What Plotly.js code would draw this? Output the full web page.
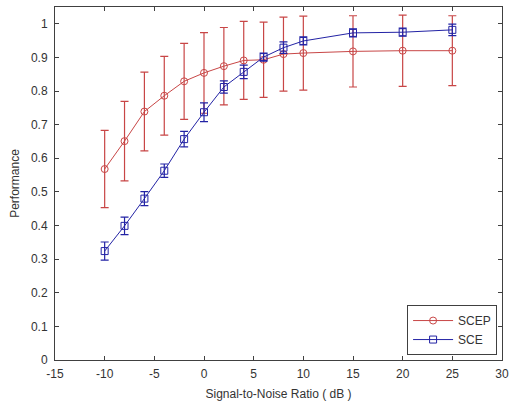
<!DOCTYPE html>
<html><head><meta charset="utf-8">
<script src="https://cdn.plot.ly/plotly-3.0.1.min.js"></script>
<style>body{margin:0;background:#fff}#plot{width:515px;height:406px}</style>
</head><body><div id="plot"></div>
<script>
const snr = [-10, -8, -6, -4, -2, 0, 2, 4, 6, 8, 10, 15, 20, 25];
const scepPerf = [0.568, 0.651, 0.739, 0.786, 0.829, 0.854, 0.874, 0.891, 0.893, 0.910, 0.913, 0.918, 0.920, 0.920];
const scepErr = [0.115, 0.118, 0.117, 0.117, 0.113, 0.12, 0.115, 0.116, 0.112, 0.11, 0.11, 0.106, 0.106, 0.104];
const scePerf = [0.324, 0.399, 0.480, 0.563, 0.657, 0.737, 0.812, 0.857, 0.901, 0.929, 0.949, 0.973, 0.975, 0.982];
const sceErr = [0.027, 0.026, 0.021, 0.02, 0.023, 0.028, 0.018, 0.02, 0.012, 0.017, 0.012, 0.012, 0.012, 0.017];
const xTicks = [-15, -10, -5, 0, 5, 10, 15, 20, 25, 30];
const yTicks = [0, 0.1, 0.2, 0.3, 0.4, 0.5, 0.6, 0.7, 0.8, 0.9, 1];

const red = 'rgb(200,70,70)';
const blue = 'rgb(35,35,165)';
const fam = 'Liberation Sans, Arial, sans-serif';
const traces = [
  {x: snr, y: scepPerf, name: 'SCEP', type: 'scatter', mode: 'lines+markers',
   line: {color: red, width: 1},
   marker: {symbol: 'circle-open', size: 7, color: red, line: {width: 1}},
   error_y: {type: 'data', array: scepErr, visible: true, color: red, thickness: 1.2, width: 4}},
  {x: snr, y: scePerf, name: 'SCE', type: 'scatter', mode: 'lines+markers',
   line: {color: blue, width: 1},
   marker: {symbol: 'square-open', size: 7, color: blue, line: {width: 1}},
   error_y: {type: 'data', array: sceErr, visible: true, color: blue, thickness: 1.2, width: 4}}
];
const axisCommon = {
  showgrid: false, zeroline: false, showline: true, linecolor: '#404040', linewidth: 1,
  mirror: 'ticks', ticks: 'inside', ticklen: 4, tickcolor: '#404040',
  tickfont: {family: fam, size: 12, color: '#333'}
};
const layout = {
  width: 515, height: 406,
  margin: {l: 55, r: 13, t: 7, b: 46},
  paper_bgcolor: '#fff', plot_bgcolor: '#fff',
  showlegend: true,
  legend: {x: 0.989, xanchor: 'right', y: 0.014, yanchor: 'bottom',
    bordercolor: '#404040', borderwidth: 1, bgcolor: '#fff', itemwidth: 40,
    font: {family: fam, size: 12, color: '#333'}},
  xaxis: Object.assign({}, axisCommon, {range: [-15, 30], tickvals: xTicks,
    ticktext: xTicks.map(String), ticklabelstandoff: 3,
    title: {text: 'Signal-to-Noise Ratio ( dB )', standoff: 9,
      font: {family: fam, size: 12, color: '#333'}}}),
  yaxis: Object.assign({}, axisCommon, {range: [0, 1.05], tickvals: yTicks,
    ticktext: yTicks.map(String), ticklabelstandoff: 4,
    title: {text: 'Performance', standoff: 8,
      font: {family: fam, size: 12, color: '#333'}}})
};
Plotly.newPlot('plot', traces, layout, {displayModeBar: false, staticPlot: true});
</script></body></html>
